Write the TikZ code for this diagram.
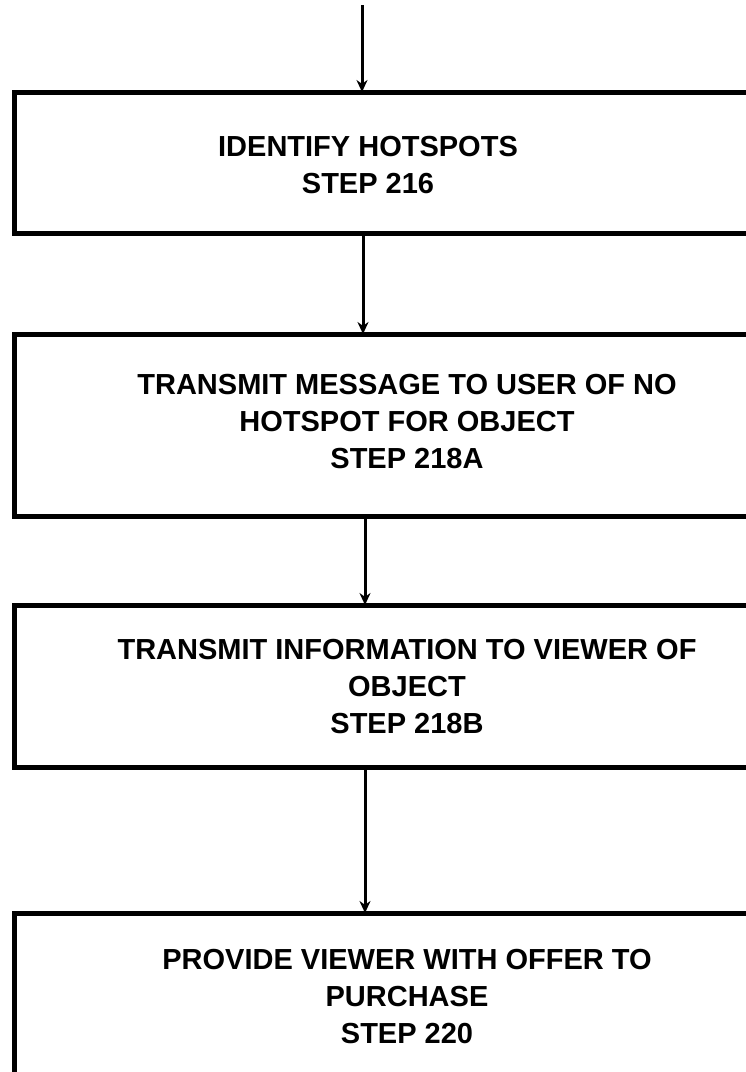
\documentclass[tikz,border=0pt]{standalone}
\usepackage{fontspec}
\setmainfont{Liberation Sans}
\usetikzlibrary{arrows.meta}
\begin{document}
\begin{tikzpicture}[x=1pt,y=-1pt,
  stepbox/.style={draw, line width=5pt, minimum width=786pt, anchor=north west, inner sep=0pt, outer sep=0pt},
  lbl/.style={font=\fontsize{29}{37}\selectfont\bfseries, align=center, inner sep=0pt},
  conn/.style={line width=3pt, -{Stealth[length=12pt,width=11pt]}}]
\useasboundingbox (0,0) rectangle (746,1072);
\clip (0,0) rectangle (746,1072);
\node[stepbox, minimum height=141pt] (b1) at (14,92) {};
\node[stepbox, minimum height=182pt] (b2) at (14,334) {};
\node[stepbox, minimum height=162pt] (b3) at (14,605) {};
\node[stepbox, minimum height=200pt] (b4) at (14,913) {};
\node[lbl] (t1) at (368,165) {IDENTIFY HOTSPOTS\\STEP 216};
\node[lbl] (t2) at (407,422) {TRANSMIT MESSAGE TO USER OF NO\\HOTSPOT FOR OBJECT\\STEP 218A};
\node[lbl] (t3) at (407,687) {TRANSMIT INFORMATION TO VIEWER OF\\OBJECT\\STEP 218B};
\node[lbl] (t4) at (407,997) {PROVIDE VIEWER WITH OFFER TO\\PURCHASE\\STEP 220};
\coordinate (start) at (362,5);
\coordinate (xa) at (363,0);
\coordinate (xb) at (365,0);
\draw[conn] (start) -- (b1.north -| start);
\draw[conn] (b1.south -| xa) -- (b2.north -| xa);
\draw[conn] (b2.south -| xb) -- (b3.north -| xb);
\draw[conn] (b3.south -| xb) -- (b4.north -| xb);
\end{tikzpicture}
\end{document}
